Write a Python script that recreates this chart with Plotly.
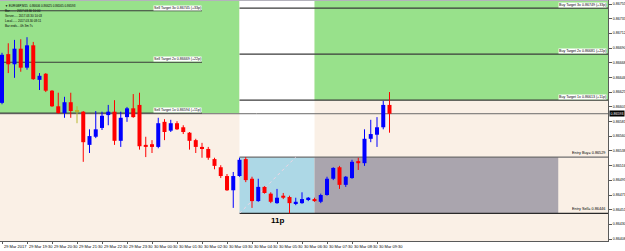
import plotly.graph_objects as go
import pandas as pd

# ---------------- data ----------------
symbol = "EURGBP,M15"
bar_start = "2017-03-29 18:30"
bar_freq = "15min"

opens = [0.86609, 0.86681, 0.86666, 0.86689, 0.86661, 0.86694, 0.86643, 0.86652, 0.86627, 0.86604,
         0.86594, 0.86610, 0.86597, 0.86596, 0.86547, 0.86559, 0.86572, 0.86591, 0.86596, 0.86553,
         0.86588, 0.86601, 0.86606, 0.86547, 0.86548, 0.86544, 0.86581, 0.86568, 0.86579, 0.86573,
         0.86565, 0.86554, 0.86544, 0.86541, 0.86526, 0.86514, 0.86501, 0.86480, 0.86501, 0.86526,
         0.86497, 0.86464, 0.86485, 0.86475, 0.86461, 0.86472, 0.86470, 0.86461, 0.86461, 0.86467,
         0.86467, 0.86463, 0.86473, 0.86497, 0.86514, 0.86488, 0.86498, 0.86523, 0.86520, 0.86556,
         0.86562, 0.86573, 0.86606]
highs = [0.86683, 0.86697, 0.86702, 0.86703, 0.86706, 0.86699, 0.86653, 0.86653, 0.86628, 0.86624,
         0.86618, 0.86624, 0.86604, 0.86597, 0.86570, 0.86597, 0.86596, 0.86606, 0.86613, 0.86596,
         0.86603, 0.86622, 0.86624, 0.86559, 0.86554, 0.86587, 0.86585, 0.86584, 0.86582, 0.86576,
         0.86566, 0.86556, 0.86550, 0.86544, 0.86528, 0.86517, 0.86504, 0.86507, 0.86528, 0.86529,
         0.86500, 0.86497, 0.86486, 0.86477, 0.86482, 0.86476, 0.86472, 0.86469, 0.86477, 0.86470,
         0.86469, 0.86475, 0.86500, 0.86514, 0.86516, 0.86501, 0.86525, 0.86528, 0.86570, 0.86584,
         0.86588, 0.86612, 0.86625]
lows = [0.86607, 0.86653, 0.86646, 0.86655, 0.86658, 0.86643, 0.86628, 0.86625, 0.86603, 0.86593,
        0.86587, 0.86587, 0.86579, 0.86522, 0.86535, 0.86557, 0.86569, 0.86576, 0.86547, 0.86544,
        0.86581, 0.86587, 0.86540, 0.86529, 0.86535, 0.86542, 0.86554, 0.86566, 0.86569, 0.86563,
        0.86540, 0.86535, 0.86528, 0.86525, 0.86511, 0.86498, 0.86479, 0.86454, 0.86500, 0.86492,
        0.86454, 0.86463, 0.86475, 0.86461, 0.86460, 0.86467, 0.86446, 0.86458, 0.86460, 0.86464,
        0.86463, 0.86461, 0.86472, 0.86495, 0.86482, 0.86485, 0.86497, 0.86510, 0.86516, 0.86551,
        0.86544, 0.86570, 0.86565]
closes = [0.86680, 0.86666, 0.86689, 0.86661, 0.86694, 0.86644, 0.86649, 0.86627, 0.86604, 0.86594,
          0.86610, 0.86597, 0.86597, 0.86551, 0.86560, 0.86570, 0.86590, 0.86596, 0.86553, 0.86587,
          0.86601, 0.86588, 0.86545, 0.86544, 0.86544, 0.86579, 0.86566, 0.86579, 0.86570, 0.86566,
          0.86553, 0.86544, 0.86542, 0.86528, 0.86516, 0.86501, 0.86480, 0.86501, 0.86525, 0.86495,
          0.86464, 0.86485, 0.86476, 0.86463, 0.86469, 0.86469, 0.86461, 0.86463, 0.86467, 0.86469,
          0.86464, 0.86473, 0.86497, 0.86513, 0.86488, 0.86500, 0.86522, 0.86520, 0.86556, 0.86563,
          0.86573, 0.86606, 0.86593]

price_ticks = [0.86755, 0.86733, 0.86712, 0.86690, 0.86668, 0.86646, 0.86625, 0.86603, 0.86581,
               0.86560, 0.86538, 0.86516, 0.86495, 0.86473, 0.86451, 0.86430, 0.86408]

sell_targets = [0.86594, 0.86669, 0.86745]      # 1x, 2x, 3x
sell_target_pips = ["+11p", "+22p", "+33p"]
buy_targets = [0.86613, 0.86681, 0.86749]       # 1x, 2x, 3x
buy_target_pips = ["+11p", "+22p", "+33p"]
entry_buy = 0.86529
entry_sell = 0.86446
box_pips = "11p"

box_start = "2017-03-30 04:00"
box_end = "2017-03-30 07:00"
projection_end = "2017-03-30 16:45"
sell_label_end = "2017-03-30 02:30"
diag_end = "2017-03-30 06:15"

info_lines = ["Bar........ 2017.03.30 10:00",
              "Server..... 2017.03.30 10:03",
              "Local...... 2017.03.30 08:11",
              "Bar ends... 0h 3m 7s"]

# ---------------- helpers ----------------
times = pd.date_range(bar_start, periods=len(opens), freq=bar_freq)
step = pd.Timedelta(bar_freq)


def t2i(t):
    return (pd.Timestamp(t) - times[0]) / step


X_MIN, X_MAX = -0.32, 96.96
Y_MIN, Y_MAX = 0.864051, 0.867609

FONT = "Liberation Sans, Arial, sans-serif"
BG = "#faf0e6"
GREEN = "#98e18b"
LBLUE = "#add8e6"
GREY = "#aaa5ae"
BULL = "#0000ff"
BEAR = "#ff0000"
DOJI = "#b8b830"

fig = go.Figure()

# ---------------- candles ----------------
groups = {"bull": ([], BULL), "bear": ([], BEAR), "doji": ([], DOJI)}
for i, (o, c) in enumerate(zip(opens, closes)):
    key = "bull" if c > o else ("bear" if c < o else "doji")
    groups[key][0].append(i)

MIN_BODY = 0.0000125
for key, (ids, col) in groups.items():
    wx, wy = [], []
    for i in ids:
        wx += [i, i, None]
        wy += [lows[i], highs[i], None]
    fig.add_trace(go.Scatter(x=wx, y=wy, mode="lines",
                             line=dict(color=col, width=1), hoverinfo="skip"))
    base = [min(opens[i], closes[i]) for i in ids]
    height = [max(abs(closes[i] - opens[i]), MIN_BODY) for i in ids]
    fig.add_trace(go.Bar(x=ids, y=height, base=base, width=0.64,
                         marker=dict(color=col, line=dict(width=0)), hoverinfo="skip"))

# ---------------- zones ----------------
xs, xe, xp = t2i(box_start), t2i(box_end), t2i(projection_end)
shapes = [
    dict(type="rect", xref="x", yref="y", x0=X_MIN, x1=xs, y0=sell_targets[0], y1=Y_MAX,
         fillcolor=GREEN, line=dict(width=0), layer="below"),
    dict(type="rect", xref="x", yref="y", x0=xs, x1=xe, y0=entry_buy, y1=Y_MAX,
         fillcolor="white", line=dict(width=0), layer="below"),
    dict(type="rect", xref="x", yref="y", x0=xe, x1=X_MAX, y0=buy_targets[0], y1=Y_MAX,
         fillcolor=GREEN, line=dict(width=0), layer="below"),
    dict(type="rect", xref="x", yref="y", x0=xs, x1=xe, y0=entry_sell, y1=entry_buy,
         fillcolor=LBLUE, line=dict(width=0), layer="below"),
    dict(type="rect", xref="x", yref="y", x0=xe, x1=xp, y0=entry_sell, y1=entry_buy,
         fillcolor=GREY, line=dict(width=0), layer="below"),
]
# bid line
bid = closes[-1]
shapes.append(dict(type="line", xref="x", yref="y", x0=X_MIN, x1=X_MAX, y0=bid, y1=bid,
                   line=dict(color="#6a6a6a", width=1), layer="below"))
# sell target lines
sle = t2i(sell_label_end)
for v in sell_targets:
    shapes.append(dict(type="line", xref="x", yref="y", x0=X_MIN, x1=sle, y0=v, y1=v,
                       line=dict(color="#3a3a3a", width=1), layer="below"))
# buy target lines
for v in buy_targets:
    shapes.append(dict(type="line", xref="x", yref="y", x0=xs, x1=X_MAX, y0=v, y1=v,
                       line=dict(color="#3a3a3a", width=1.2), layer="below"))
# entry lines
shapes.append(dict(type="line", xref="x", yref="y", x0=xs, x1=X_MAX, y0=entry_buy, y1=entry_buy,
                   line=dict(color="#6e6e6e", width=1.2), layer="below"))
shapes.append(dict(type="line", xref="x", yref="y", x0=xs, x1=X_MAX, y0=entry_sell, y1=entry_sell,
                   line=dict(color="#2a2a2a", width=1.2), layer="below"))
# diagonal dotted line inside the box
shapes.append(dict(type="line", xref="x", yref="y", x0=xs, x1=t2i(diag_end), y0=entry_sell, y1=entry_buy,
                   line=dict(color="#f2d6e4", width=1, dash="dot"), layer="below"))
# top border
shapes.append(dict(type="line", xref="paper", yref="paper", x0=0, x1=1, y0=1, y1=1,
                   line=dict(color="#b4b2bc", width=2)))

fig.update_layout(shapes=shapes)

# ---------------- annotations ----------------
ann = []
# x labels
tick_idx = list(range(0, len(times), 4))
for k, i in enumerate(tick_idx):
    txt = times[i].strftime("%d %b %Y") if k == 0 else times[i].strftime("%d %b %H:%M")
    ann.append(dict(x=i, y=0, xref="x", yref="paper", xanchor="left", yanchor="top",
                    xshift=0, yshift=-1, text=txt, showarrow=False,
                    font=dict(size=4, color="black", family=FONT)))
# bid box
ann.append(dict(x=1, y=bid, xref="paper", yref="y", xanchor="left", yanchor="middle", xshift=1,
                text=f"{bid:.5f}", showarrow=False, bgcolor="black", borderpad=0.5,
                font=dict(size=3.6, color="white", family=FONT)))
# sell target labels
for n_, (v, p) in enumerate(zip(sell_targets, sell_target_pips), start=1):
    ann.append(dict(x=sle, y=v, xref="x", yref="y", xanchor="right", yanchor="bottom",
                    text=f"Sell Target {n_}x {v:.5f} ({p})", showarrow=False, bgcolor="white",
                    borderpad=0, font=dict(size=3.6, color="black", family=FONT)))
# buy target labels
for n_, (v, p) in enumerate(zip(buy_targets, buy_target_pips), start=1):
    ann.append(dict(x=X_MAX, y=v, xref="x", yref="y", xanchor="right", yanchor="bottom",
                    xshift=-1, text=f"Buy Target {n_}x {v:.5f} ({p})", showarrow=False,
                    bgcolor="white", borderpad=0, font=dict(size=3.6, color="black", family=FONT)))
ann.append(dict(x=X_MAX, y=entry_buy, xref="x", yref="y", xanchor="right", yanchor="bottom",
                xshift=-1, text=f"Entry Buy= {entry_buy:.5f}", showarrow=False,
                font=dict(size=3.8, color="black", family=FONT)))
ann.append(dict(x=X_MAX, y=entry_sell, xref="x", yref="y", xanchor="right", yanchor="bottom",
                xshift=-1, text=f"Entry Sell= {entry_sell:.5f}", showarrow=False,
                font=dict(size=3.8, color="black", family=FONT)))
# box size text
ann.append(dict(x=(xs + xe) / 2, y=entry_sell, xref="x", yref="y", xanchor="center", yanchor="top",
                yshift=-0.5, text=f"<b>{box_pips}</b>", showarrow=False,
                font=dict(size=8, color="black", family=FONT)))
# info block top-left
head = f"▼ {symbol}  {opens[-1]:.5f} {highs[-1]:.5f} {lows[-1]:.5f} {closes[-1]:.5f}"
rows = [head] + info_lines
for r, txt in enumerate(rows):
    ann.append(dict(x=0, y=1, xref="paper", yref="paper", xanchor="left", yanchor="top",
                    xshift=3, yshift=-2 - r * 5, text=txt, showarrow=False,
                    font=dict(size=3, color="black", family=FONT)))

fig.update_layout(annotations=ann)

fig.update_layout(
    width=625, height=251,
    margin=dict(l=0, r=17, t=0, b=10),
    paper_bgcolor="white", plot_bgcolor=BG,
    showlegend=False, barmode="overlay",
    font=dict(family=FONT, size=4, color="black"),
    xaxis=dict(range=[X_MIN, X_MAX], showgrid=False, zeroline=False, showline=True,
               linecolor="#5a5a5a", linewidth=1, ticks="outside", ticklen=2, tickcolor="#5a5a5a",
               tickvals=tick_idx, showticklabels=False, fixedrange=True),
    yaxis=dict(range=[Y_MIN, Y_MAX], side="right", showgrid=False, zeroline=False, showline=True,
               linecolor="#5a5a5a", linewidth=1, ticks="outside", ticklen=3, tickcolor="#5a5a5a",
               tickvals=price_ticks, ticktext=[f"{v:.5f}" for v in price_ticks],
               tickfont=dict(size=3.6, color="black", family=FONT), fixedrange=True),
)

fig.write_html("out.html")
